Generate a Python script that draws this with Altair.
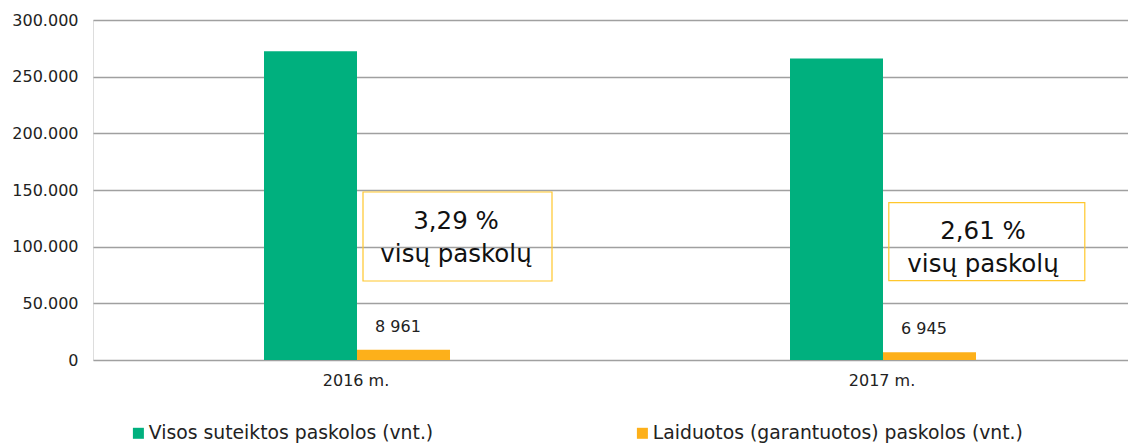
import altair as alt
import pandas as pd

# ---- data ----
years = ["2016 m.", "2017 m."]
series = ["Visos suteiktos paskolos (vnt.)", "Laiduotos (garantuotos) paskolos (vnt.)"]
visos = [272370, 266090]
laiduotos = [8961, 6945]
shares = ["3,29 %", "2,61 %"]
share_suffix = "visų paskolų"

rows = []
for i, y in enumerate(years):
    rows.append({"year": y, "series": series[0], "value": visos[i]})
    rows.append({"year": y, "series": series[1], "value": laiduotos[i]})
df = pd.DataFrame(rows)

# annotation callouts (placement of the boxes, in data units / pixel offsets)
ann = pd.DataFrame({
    "year": years,
    "txt": [s + "\n" + share_suffix for s in shares],
    "lo": [69700, 69970],
    "hi": [148240, 138800],
    "ty": [121800, 113200],
    "off": [364.5, 367.8],
    "toff": [363, 364],
    "w": [189, 196],
})

FONT = "DejaVu Sans"
GREEN = "#00B07E"
ORANGE = "#FDB01A"

x_enc = alt.X(
    "year:N", sort=years,
    scale=alt.Scale(range=[0, 1052], paddingInner=0, paddingOuter=0),
    axis=alt.Axis(title=None, labelAngle=0, domain=False, ticks=False,
                  labelPadding=12, labelFontSize=16, labelColor="#222222",
                  labelFont=FONT),
)
xoff_enc = alt.XOffset("series:N", sort=series,
                       scale=alt.Scale(range=[171, 357], paddingOuter=0, paddingInner=0))
y_enc = alt.Y(
    "value:Q",
    scale=alt.Scale(domain=[0, 300000], nice=False),
    axis=alt.Axis(title=None, values=[0, 50000, 100000, 150000, 200000, 250000, 300000],
                  labelExpr="replace(format(datum.value, ','), ',', '.')",
                  domain=False, ticks=False, grid=True, gridColor="#A0A0A0",
                  gridWidth=1.3, labelPadding=15, labelFontSize=16,
                  labelColor="#222222", labelFont=FONT),
)

bars = alt.Chart(df).mark_bar().encode(
    x=x_enc,
    xOffset=xoff_enc,
    y=y_enc,
    color=alt.Color(
        "series:N", sort=series,
        scale=alt.Scale(domain=series, range=[GREEN, ORANGE]),
        legend=alt.Legend(
            title=None, orient="none", legendX=36, legendY=403.5,
            direction="horizontal", symbolType="square", symbolSize=121,
            symbolStrokeWidth=0, labelFontSize=18.8, labelFont=FONT,
            labelColor="#222222", labelOffset=1, columnPadding=199,
            labelLimit=0,
        ),
    ),
)

labels = alt.Chart(df).transform_calculate(
    label="datum.series == '" + series[1] + "' ? replace(format(datum.value, ','), ',', ' ') : ''"
).mark_text(dy=-23, dx=-52, fontSize=16, font=FONT, color="#222222",
            baseline="middle").encode(
    x=alt.X("year:N", sort=years),
    xOffset=xoff_enc,
    y=alt.Y("value:Q"),
    text="label:N",
)

boxes = alt.Chart(ann).mark_bar(fillOpacity=0, stroke="#FFC72C", strokeWidth=1.2).encode(
    x=alt.X("year:N", sort=years),
    xOffset=alt.XOffset("off:Q", scale=None),
    size=alt.Size("w:Q", scale=None, legend=None),
    y=alt.Y("lo:Q"),
    y2="hi:Q",
)

box_text = alt.Chart(ann).mark_text(fontSize=24.5, font=FONT, color="#111111",
                                    lineBreak="\n", lineHeight=33,
                                    baseline="middle").encode(
    x=alt.X("year:N", sort=years),
    xOffset=alt.XOffset("toff:Q", scale=None),
    y=alt.Y("ty:Q"),
    text="txt:N",
)

chart = alt.layer(bars, labels, boxes, box_text).resolve_scale(
    xOffset="independent"
).properties(
    width=1035, height=340,
    autosize=alt.AutoSizeParams(type="none"),
    padding={"left": 85, "top": 12, "right": 0, "bottom": 95},
).configure_view(stroke=None).configure(background="white")

chart.save("out.html", embed_options={"renderer": "svg", "actions": False})
